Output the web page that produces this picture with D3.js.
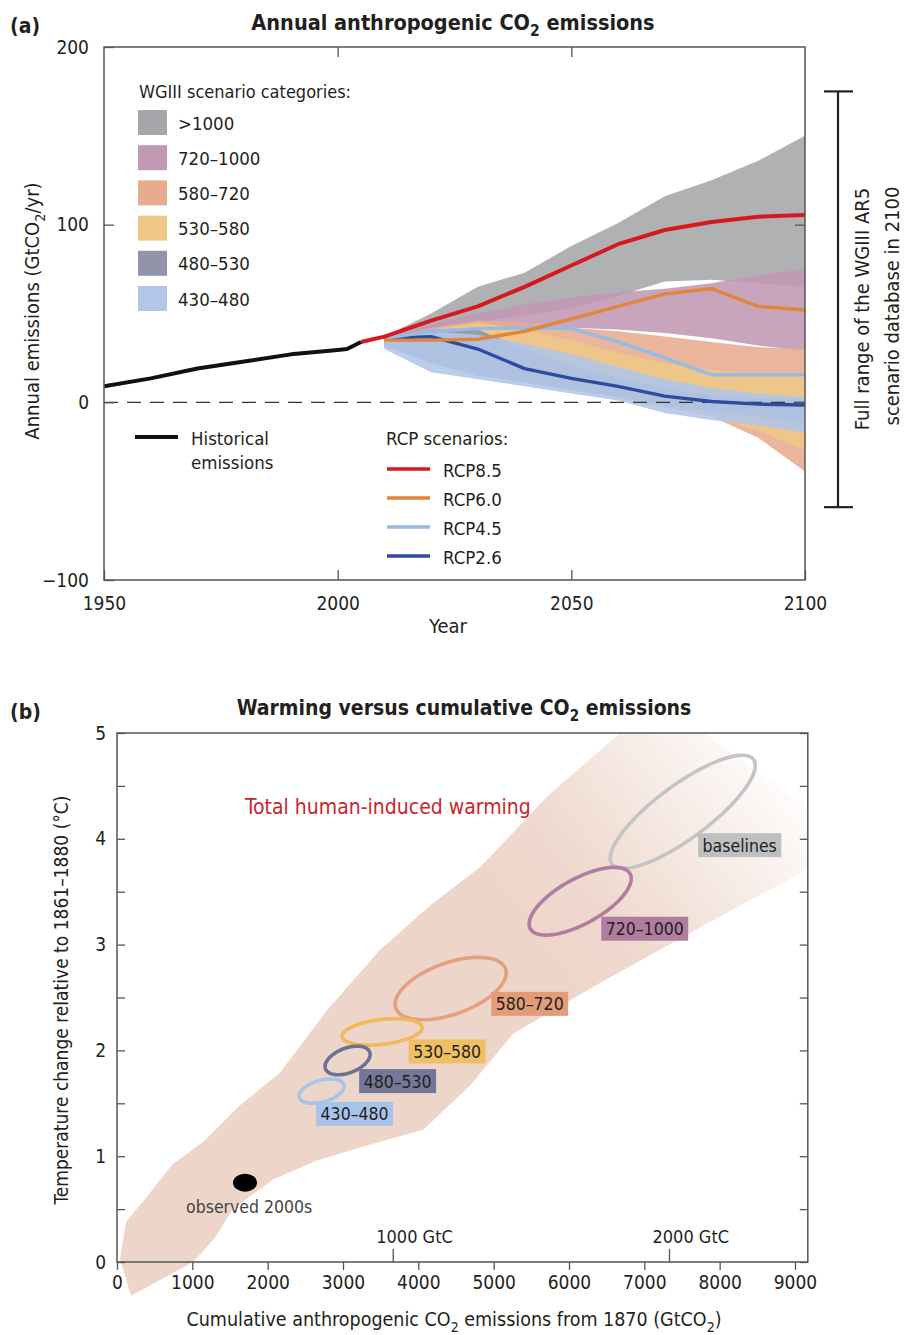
<!DOCTYPE html>
<html><head><meta charset="utf-8">
<script src="https://cdn.jsdelivr.net/npm/d3@7"></script>
<style>
body{margin:0;background:#fff;}
svg text{font-family:"Liberation Sans Narrow","Arial Narrow","DejaVu Sans Condensed",sans-serif;fill:#231f20;}
.tick text{font-size:19px;fill:#231f20;font-family:"Liberation Sans Narrow","Arial Narrow","DejaVu Sans Condensed",sans-serif;}
.tick line{stroke:#555;stroke-width:1.3;}
</style></head><body>
<svg id="chart" width="912" height="1335"></svg>
<script>
// ================= DATA : panel (a) =================
const histYears  = [1950, 1960, 1970, 1980, 1990, 2000, 2002, 2005];
const histValues = [9, 13.5, 19, 23, 27, 29.5, 30, 34];

const rcpYears = [2005, 2010, 2020, 2030, 2040, 2050, 2060, 2070, 2080, 2090, 2100];
const rcp85 = [34, 37, 46, 54, 65, 77, 89, 97, 101.5, 104.5, 105.5];
const rcp60 = [34, 35, 35, 35.5, 40, 47, 54, 61, 64, 54, 52];
const rcp45 = [34, 36, 40, 41.5, 42, 41.5, 34, 25, 15.5, 15.5, 15.5];
const rcp26 = [34, 36, 37, 30, 19, 13.5, 9, 3.5, 0.5, -1, -1.5];
const rcpNames = ["RCP8.5", "RCP6.0", "RCP4.5", "RCP2.6"];

const bandYears = [2010, 2020, 2030, 2040, 2050, 2060, 2070, 2080, 2090, 2100];
const cat1000Up = [37, 50, 65, 73, 88, 101, 116, 125, 136, 150];
const cat1000Lo = [34, 40, 45, 49, 53, 60, 68, 69, 67, 65];
const cat720Up  = [36, 44, 50, 55, 59, 62, 64, 67, 71.5, 75];
const cat720Lo  = [33, 37, 40, 42, 42, 41, 39, 36, 32, 29];
const cat580Up  = [36, 42, 46, 45, 42, 40, 37, 34, 31, 30];
const cat580Lo  = [31, 25, 20, 14, 8, 3, -2, -8, -20, -39];
const cat530Up  = [35, 41, 45, 41, 35, 28, 22, 18, 16, 15];
const cat530Lo  = [31, 24, 18, 12, 7, 2, -3, -8, -16, -27];
const cat480Up  = [36, 41, 41, 30, 21, 14, 8, 4, 2.5, 2];
const cat480Lo  = [32, 22, 15, 11, 7, 3, -2, -5, -8, -12];
const cat430Up  = [37, 40, 38, 33, 27, 20, 13, 8, 5, 3];
const cat430Lo  = [30, 17, 13, 9, 5, 1, -6, -10, -13, -17];
const catLabels = [">1000", "720–1000", "580–720", "530–580", "480–530", "430–480"];

const fullRange2100 = [-59, 175];        // WGIII AR5 database range in 2100
const xTicksA = [1950, 2000, 2050, 2100];
const yTicksA = [-100, 0, 100, 200];

// ================= DATA : panel (b) =================
const plumeUpperEdge = [[186,-0.32],[40,0.03],[120,0.38],[400,0.62],[730,0.92],[1150,1.14],[1630,1.48],
  [2165,1.79],[2790,2.38],[3490,2.95],[4155,3.37],[4820,3.73],[5710,4.4],[6680,5.0],[7210,5.31]];
const plumeLowerEdge = [[9730,3.99],[8980,3.64],[7915,3.23],[6415,2.64],[5260,2.16],[4690,1.67],
  [4065,1.25],[3360,1.11],[2655,0.96],[2070,0.78],[1540,0.5],[1300,0.23],[1010,0],[186,-0.32]];

const ellipseCats  = ["430–480", "480–530", "530–580", "580–720", "720–1000", "baselines"];
const ellipseCum   = [[2417,3015],[2762,3360],[2988,4050],[3692,5166],[5471,6826],[6547,8473]];
const ellipseTemp  = [[1.50,1.73],[1.77,2.04],[2.05,2.30],[2.29,2.88],[3.09,3.73],[3.72,4.79]];
const ellipseTilt  = [66, 65, 71, 60, 48, 35];   // phase (deg) between cum. and temp. ranges
const labelCum     = [3154, 3725, 4382, 5478, 7005, 8266];
const labelTemp    = [1.40, 1.71, 1.99, 2.44, 3.15, 3.94];
const observedCum  = [1540, 1860];
const observedTemp = [0.665, 0.835];
const xTicksB = [0,1000,2000,3000,4000,5000,6000,7000,8000,9000];
const yTicksB = [0,0.5,1,1.5,2,2.5,3,3.5,4,4.5,5];
const gtcMarks = [1000, 2000];
const gtcToGtco2 = 3.667;

// ================= STYLES =================
const catColors  = ["#a4a6a9", "#c199b4", "#e7ab8e", "#efc886", "#9294aa", "#b1c6e8"];
const rcpColors  = ["#d7191f", "#e0853a", "#92bbe6", "#2e4b9e"];
const ellColors  = ["#a6c4ec", "#6d7194", "#efba5c", "#e5a07f", "#b07da0", "#c3c4c6"];
const boxColors  = ["#a9c4ea", "#747898", "#f0bf63", "#e49b7a", "#b07c9f", "#bebfc1"];
const plumeColor = "#edd5c9";
const FS = 18.5;

const svg = d3.select("#chart");
const defs = svg.append("defs");

function richText(sel, parts, fs) {
  parts.forEach((p, i) => {
    const t = sel.append("tspan").text(p[0]);
    if (p[1]) t.attr("font-size", fs * 0.72).attr("dy", fs * 0.3);
    else if (i > 0 && parts[i - 1][1]) t.attr("dy", -fs * 0.3);
  });
  return sel;
}

// ================= PANEL (a) =================
const xA = d3.scaleLinear().domain([1950, 2100]).range([104, 805]);
const yA = d3.scaleLinear().domain([-100, 200]).range([580, 47]);
defs.append("clipPath").attr("id", "clipA").append("rect")
  .attr("x", xA(1950)).attr("y", yA(200)).attr("width", xA(2100) - xA(1950)).attr("height", yA(-100) - yA(200));

const gA = svg.append("g");
const plotA = gA.append("g").attr("clip-path", "url(#clipA)");

const bandsA = [
  [cat1000Lo, cat1000Up], [cat720Lo, cat720Up], [cat580Lo, cat580Up],
  [cat530Lo, cat530Up], [cat480Lo, cat480Up], [cat430Lo, cat430Up]
];
const areaA = d3.area()
  .x((d, i) => xA(bandYears[i]))
  .y0(d => yA(d[0])).y1(d => yA(d[1]));
bandsA.forEach((b, k) => {
  const pts = bandYears.map((y, i) => [b[0][i], b[1][i]]);
  plotA.append("path").attr("d", areaA(pts)).attr("fill", catColors[k]).attr("fill-opacity", 0.88);
});

// zero line
plotA.append("line").attr("x1", xA(1950)).attr("x2", xA(2100)).attr("y1", yA(0)).attr("y2", yA(0))
  .attr("stroke", "#333").attr("stroke-width", 1.3).attr("stroke-dasharray", "14,9");

const lineA = d3.line().x(d => xA(d[0])).y(d => yA(d[1]));
const rcpSeries = [rcp85, rcp60, rcp45, rcp26];
[3, 2, 1, 0].forEach(k => {
  const start = k === 0 ? 0 : 1;
  const pts = rcpYears.slice(start).map((y, i) => [y, rcpSeries[k][i + start]]);
  plotA.append("path").attr("d", lineA(pts)).attr("fill", "none")
    .attr("stroke", rcpColors[k]).attr("stroke-width", k === 0 ? 4 : 3.4).attr("stroke-linejoin", "round");
});
plotA.append("path").attr("d", lineA(histYears.map((y, i) => [y, histValues[i]])))
  .attr("fill", "none").attr("stroke", "#111").attr("stroke-width", 4).attr("stroke-linejoin", "round");

// axes (a)
const axL = gA.append("g").attr("transform", `translate(${xA(1950)},0)`)
  .call(d3.axisLeft(yA).tickValues(yTicksA).tickSizeInner(-10).tickSizeOuter(0).tickPadding(15)
    .tickFormat(d => d < 0 ? "−" + Math.abs(d) : d));
axL.select(".domain").remove();
const axB = gA.append("g").attr("transform", `translate(0,${yA(-100)})`)
  .call(d3.axisBottom(xA).tickValues(xTicksA).tickSizeInner(-10).tickSizeOuter(0).tickPadding(17).tickFormat(d3.format("d")));
axB.select(".domain").remove();
const axT = gA.append("g").attr("transform", `translate(0,${yA(200)})`)
  .call(d3.axisTop(xA).tickValues([2000, 2050]).tickSizeInner(-10).tickSizeOuter(0).tickFormat(""));
axT.select(".domain").remove();
const axR = gA.append("g").attr("transform", `translate(${xA(2100)},0)`)
  .call(d3.axisRight(yA).tickValues([0, 100]).tickSizeInner(-10).tickSizeOuter(0).tickFormat(""));
axR.select(".domain").remove();
gA.append("rect").attr("x", xA(1950)).attr("y", yA(200)).attr("width", xA(2100) - xA(1950))
  .attr("height", yA(-100) - yA(200)).attr("fill", "none").attr("stroke", "#555").attr("stroke-width", 1.5);

// titles (a)
svg.append("text").attr("x", 10).attr("y", 33).attr("font-size", 21).attr("font-weight", "bold").text("(a)");
richText(svg.append("text").attr("x", 453).attr("y", 30).attr("text-anchor", "middle")
  .attr("font-size", 21.5).attr("font-weight", "bold"),
  [["Annual anthropogenic CO", false], ["2", true], [" emissions", false]], 21.5);
richText(svg.append("text").attr("transform", "translate(39,311) rotate(-90)").attr("text-anchor", "middle")
  .attr("font-size", 20),
  [["Annual emissions (GtCO", false], ["2", true], ["/yr)", false]], 20);
svg.append("text").attr("x", 448).attr("y", 633).attr("text-anchor", "middle").attr("font-size", 20).text("Year");

// legend: scenario categories
svg.append("text").attr("x", 139).attr("y", 98).attr("font-size", 18).text("WGIII scenario categories:");
catLabels.forEach((c, i) => {
  const cy = 122.5 + i * 35.2;
  svg.append("rect").attr("x", 138).attr("y", cy - 12.5).attr("width", 29).attr("height", 25).attr("fill", catColors[i]);
  svg.append("text").attr("x", 178).attr("y", cy + 7).attr("font-size", FS).text(c);
});
// legend: historical
svg.append("line").attr("x1", 135).attr("x2", 178).attr("y1", 437).attr("y2", 437).attr("stroke", "#111").attr("stroke-width", 4);
svg.append("text").attr("x", 191).attr("y", 445).attr("font-size", FS).text("Historical");
svg.append("text").attr("x", 191).attr("y", 469).attr("font-size", FS).text("emissions");
// legend: RCP
svg.append("text").attr("x", 386).attr("y", 445).attr("font-size", FS).text("RCP scenarios:");
const rcpLegY = [469, 498, 527, 556];
rcpNames.forEach((n, i) => {
  svg.append("line").attr("x1", 387).attr("x2", 430).attr("y1", rcpLegY[i]).attr("y2", rcpLegY[i])
    .attr("stroke", rcpColors[i]).attr("stroke-width", 3.4);
  svg.append("text").attr("x", 443).attr("y", rcpLegY[i] + 7.5).attr("font-size", FS).text(n);
});

// full range bracket
const bx = 838;
const bTop = yA(fullRange2100[1]), bBot = yA(fullRange2100[0]);
svg.append("line").attr("x1", bx).attr("x2", bx).attr("y1", bTop).attr("y2", bBot).attr("stroke", "#222").attr("stroke-width", 2.2);
[bTop, bBot].forEach(y => svg.append("line").attr("x1", bx - 14).attr("x2", bx + 15).attr("y1", y).attr("y2", y)
  .attr("stroke", "#222").attr("stroke-width", 2.2));
svg.append("text").attr("transform", "translate(869,309) rotate(-90)").attr("text-anchor", "middle")
  .attr("font-size", 20).text("Full range of the WGIII AR5");
svg.append("text").attr("transform", "translate(899,306) rotate(-90)").attr("text-anchor", "middle")
  .attr("font-size", 20).text("scenario database in 2100");

// ================= PANEL (b) =================
const xB = d3.scaleLinear().domain([0, 9000]).range([117, 795]);
const yB = d3.scaleLinear().domain([0, 5]).range([1262, 733]);
const xBmax = 9170;
const gB = svg.append("g");
defs.append("clipPath").attr("id", "clipB").append("rect")
  .attr("x", xB(0)).attr("y", yB(5)).attr("width", xB(xBmax) - xB(0)).attr("height", 80 + yB(0) - yB(5));

const grad = defs.append("linearGradient").attr("id", "plumeFade").attr("gradientUnits", "userSpaceOnUse")
  .attr("x1", xB(5650)).attr("y1", yB(2.95)).attr("x2", xB(8950)).attr("y2", yB(4.75));
grad.append("stop").attr("offset", 0).attr("stop-color", plumeColor).attr("stop-opacity", 1);
grad.append("stop").attr("offset", 0.25).attr("stop-color", plumeColor).attr("stop-opacity", 0.9);
grad.append("stop").attr("offset", 1).attr("stop-color", plumeColor).attr("stop-opacity", 0);

const plumePts = plumeUpperEdge.concat(plumeLowerEdge);
gB.append("path").attr("clip-path", "url(#clipB)")
  .attr("d", d3.line().x(d => xB(d[0])).y(d => yB(d[1])).curve(d3.curveLinearClosed)(plumePts))
  .attr("fill", "url(#plumeFade)");

// axes (b)
const bxB = gB.append("g").attr("transform", `translate(0,${yB(0)})`)
  .call(d3.axisBottom(xB).tickValues(xTicksB).tickSizeInner(8).tickSizeOuter(0).tickPadding(6).tickFormat(d3.format("d")));
bxB.select(".domain").remove();
const blB = gB.append("g").attr("transform", `translate(${xB(0)},0)`)
  .call(d3.axisLeft(yB).tickValues(yTicksB).tickSizeInner(-8).tickSizeOuter(0).tickPadding(11)
    .tickFormat(d => Number.isInteger(d) ? d : ""));
blB.select(".domain").remove();
const brB = gB.append("g").attr("transform", `translate(${xB(xBmax)},0)`)
  .call(d3.axisRight(yB).tickValues(yTicksB).tickSizeInner(-8).tickSizeOuter(0).tickFormat(""));
brB.select(".domain").remove();
gB.append("rect").attr("x", xB(0)).attr("y", yB(5)).attr("width", xB(xBmax) - xB(0)).attr("height", yB(0) - yB(5))
  .attr("fill", "none").attr("stroke", "#555").attr("stroke-width", 1.5);

// GtC marks
gtcMarks.forEach(g => {
  const x = xB(g * gtcToGtco2);
  gB.append("line").attr("x1", x).attr("x2", x).attr("y1", yB(0)).attr("y2", yB(0) - 13).attr("stroke", "#555").attr("stroke-width", 1.3);
  gB.append("text").attr("x", x - 17).attr("y", yB(0) - 19).attr("font-size", 18).text(g + " GtC");
});

// ellipses
const ellLine = d3.line().curve(d3.curveLinearClosed);
const order = [5, 4, 3, 2, 1, 0];
order.forEach(i => {
  const cx = (ellipseCum[i][0] + ellipseCum[i][1]) / 2, rx = (ellipseCum[i][1] - ellipseCum[i][0]) / 2;
  const cy = (ellipseTemp[i][0] + ellipseTemp[i][1]) / 2, ry = (ellipseTemp[i][1] - ellipseTemp[i][0]) / 2;
  const ph = ellipseTilt[i] * Math.PI / 180;
  const pts = d3.range(0, 120).map(k => {
    const t = k / 120 * 2 * Math.PI;
    return [xB(cx + rx * Math.cos(t)), yB(cy + ry * Math.cos(t - ph))];
  });
  gB.append("path").attr("d", ellLine(pts)).attr("fill", "none").attr("stroke", ellColors[i]).attr("stroke-width", 3.6);
});
// ellipse labels
ellipseCats.forEach((c, i) => {
  const g = gB.append("g");
  const t = g.append("text").attr("x", xB(labelCum[i])).attr("y", yB(labelTemp[i]) + 6.5)
    .attr("text-anchor", "middle").attr("font-size", 17.5).text(c);
  const w = t.node().getComputedTextLength() + 9;
  g.insert("rect", "text").attr("x", xB(labelCum[i]) - w / 2).attr("y", yB(labelTemp[i]) - 12)
    .attr("width", w).attr("height", 24).attr("fill", boxColors[i]);
});

// observed 2000s
gB.append("ellipse").attr("cx", xB((observedCum[0] + observedCum[1]) / 2)).attr("cy", yB((observedTemp[0] + observedTemp[1]) / 2))
  .attr("rx", (xB(observedCum[1]) - xB(observedCum[0])) / 2).attr("ry", (yB(observedTemp[0]) - yB(observedTemp[1])) / 2)
  .attr("fill", "#000");
gB.append("text").attr("x", xB(1755)).attr("y", yB(0.46)).attr("text-anchor", "middle").attr("font-size", 17.5)
  .style("fill", "#444").text("observed 2000s");

gB.append("text").attr("x", xB(1700)).attr("y", yB(4.23)).attr("font-size", 21)
  .style("fill", "#c8262d").text("Total human-induced warming");

// titles (b)
svg.append("text").attr("x", 10).attr("y", 719).attr("font-size", 21).attr("font-weight", "bold").text("(b)");
richText(svg.append("text").attr("x", 464).attr("y", 715).attr("text-anchor", "middle")
  .attr("font-size", 21).attr("font-weight", "bold"),
  [["Warming versus cumulative CO", false], ["2", true], [" emissions", false]], 21);
svg.append("text").attr("transform", "translate(68,1000) rotate(-90)").attr("text-anchor", "middle")
  .attr("font-size", 19).text("Temperature change relative to 1861–1880 (°C)");
richText(svg.append("text").attr("x", 454).attr("y", 1326).attr("text-anchor", "middle").attr("font-size", 19.5),
  [["Cumulative anthropogenic CO", false], ["2", true], [" emissions from 1870  (GtCO", false], ["2", true], [")", false]], 19.5);
</script>
</body></html>
